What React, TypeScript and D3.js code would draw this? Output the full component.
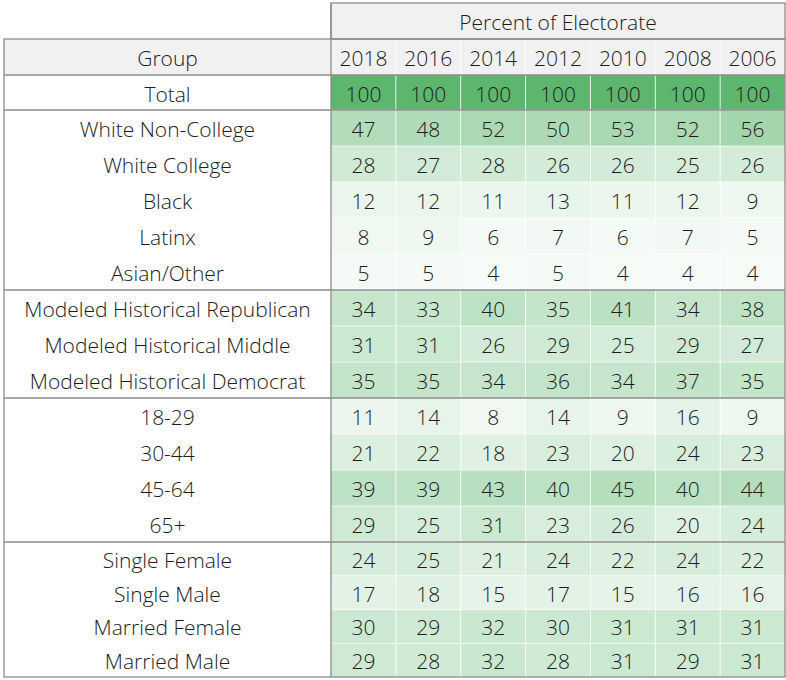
import React from "react";
import * as d3 from "d3";

const years = ["2018", "2016", "2014", "2012", "2010", "2008", "2006"];
const headerTitle = "Percent of Electorate";
const groupHeader = "Group";

const totalLabel = "Total";
const totalValues = [100, 100, 100, 100, 100, 100, 100];

const raceLabels = ["White Non-College", "White College", "Black", "Latinx", "Asian/Other"];
const raceValues = [
  [47, 48, 52, 50, 53, 52, 56],
  [28, 27, 28, 26, 26, 25, 26],
  [12, 12, 11, 13, 11, 12, 9],
  [8, 9, 6, 7, 6, 7, 5],
  [5, 5, 4, 5, 4, 4, 4],
];

const partyLabels = ["Modeled Historical Republican", "Modeled Historical Middle", "Modeled Historical Democrat"];
const partyValues = [
  [34, 33, 40, 35, 41, 34, 38],
  [31, 31, 26, 29, 25, 29, 27],
  [35, 35, 34, 36, 34, 37, 35],
];

const ageLabels = ["18-29", "30-44", "45-64", "65+"];
const ageValues = [
  [11, 14, 8, 14, 9, 16, 9],
  [21, 22, 18, 23, 20, 24, 23],
  [39, 39, 43, 40, 45, 40, 44],
  [29, 25, 31, 23, 26, 20, 24],
];

const maritalLabels = ["Single Female", "Single Male", "Married Female", "Married Male"];
const maritalValues = [
  [24, 25, 21, 24, 22, 24, 22],
  [17, 18, 15, 17, 15, 16, 16],
  [30, 29, 32, 30, 31, 31, 31],
  [29, 28, 32, 28, 31, 29, 31],
];

const W = 786;
const H = 680;
const FONT = "'Open Sans', 'Noto Sans', sans-serif";

export default function App() {
  const left = 4;
  const split = 331;
  const right = 785;
  const topY = 3;
  const headY = 39;
  const totalY = 75;
  const bodyY = 110;

  const x = d3.scaleBand<string>().domain(years).range([split, right]);

  const sections = [
    { labels: raceLabels, values: raceValues, rh: 36 },
    { labels: partyLabels, values: partyValues, rh: 36 },
    { labels: ageLabels, values: ageValues, rh: 36 },
    { labels: maritalLabels, values: maritalValues, rh: 33.75 },
  ];

  const allVals = [totalValues, ...raceValues, ...partyValues, ...ageValues, ...maritalValues].flat();
  const color = d3
    .scaleLinear<string>()
    .domain([d3.min(allVals)!, d3.max(allVals)!])
    .range(["#f7fbf8", "#5cb66d"])
    .interpolate(d3.interpolateRgb);

  type Row = { label: string; values: number[]; y0: number; y1: number };
  const rows: Row[] = [];
  const sepYs: number[] = [];
  let yc = bodyY;
  sections.forEach((s) => {
    s.labels.forEach((lab, i) => {
      rows.push({ label: lab, values: s.values[i], y0: yc, y1: yc + s.rh });
      yc += s.rh;
    });
    sepYs.push(yc);
  });
  const bottom = yc;

  const textColor = "#1c1c1c";
  const fs = 21;
  const midX = (left + split) / 2;

  const cellText = (v: number | string, cx: number, cy: number, key: string) => (
    <text key={key} x={cx} y={cy + 1} textAnchor="middle" dominantBaseline="central" fontSize={fs} fill={textColor} fontFamily={FONT} fontWeight={300}>
      {v}
    </text>
  );

  return (
    <svg width={W} height={H} style={{ position: "absolute", left: 0, top: 0, background: "#fff" }}>
      {/* header backgrounds */}
      <rect x={split} y={topY} width={right - split} height={headY - topY} fill="#f1f1f1" />
      <rect x={left} y={headY} width={right - left} height={totalY - headY} fill="#f1f1f1" />
      {/* total row */}
      {years.map((yr, j) => (
        <rect key={"t" + yr} x={x(yr)!} y={totalY} width={x.bandwidth()} height={bodyY - totalY} fill={color(totalValues[j])} />
      ))}
      {rows.map((r, i) =>
        years.map((yr, j) => (
          <rect key={`c${i}-${j}`} x={x(yr)!} y={r.y0} width={x.bandwidth()} height={r.y1 - r.y0} fill={color(r.values[j])} />
        ))
      )}
      {/* inner white grid lines */}
      {years.slice(1).map((yr) => (
        <line key={"v" + yr} x1={x(yr)!} x2={x(yr)!} y1={headY} y2={bottom} stroke="#ffffff" strokeWidth={1} opacity={0.8} />
      ))}
      {rows.map((r, i) => (
        <line key={"h" + i} x1={split} x2={right} y1={r.y0} y2={r.y0} stroke="#ffffff" strokeWidth={1} opacity={0.7} />
      ))}
      <line x1={split} x2={right} y1={headY} y2={headY} stroke="#d6d6d6" strokeWidth={1} />
      {/* gray structural lines */}
      <g stroke="#8c8c8c" strokeWidth={1.3} fill="none">
        <rect x={split} y={topY} width={right - split} height={headY - topY} />
        <rect x={left} y={headY} width={right - left} height={bottom - headY} />
        <line x1={left} x2={right} y1={totalY} y2={totalY} />
        <line x1={left} x2={right} y1={bodyY} y2={bodyY} />
        {sepYs.slice(0, -1).map((sy, i) => (
          <line key={"s" + i} x1={left} x2={right} y1={sy} y2={sy} />
        ))}
        <line x1={split} x2={split} y1={topY} y2={bottom} />
      </g>
      {/* header texts */}
      {cellText(headerTitle, (split + right) / 2, (topY + headY) / 2, "title")}
      {cellText(groupHeader, midX, (headY + totalY) / 2, "grp")}
      {years.map((yr) => cellText(yr, x(yr)! + x.bandwidth() / 2, (headY + totalY) / 2, "y" + yr))}
      {cellText(totalLabel, midX, (totalY + bodyY) / 2, "tot")}
      {years.map((yr, j) => cellText(totalValues[j], x(yr)! + x.bandwidth() / 2, (totalY + bodyY) / 2, "tv" + yr))}
      {rows.map((r, i) => (
        <g key={"r" + i}>
          {cellText(r.label, midX, (r.y0 + r.y1) / 2, "l" + i)}
          {years.map((yr, j) => cellText(r.values[j], x(yr)! + x.bandwidth() / 2, (r.y0 + r.y1) / 2, `v${i}-${j}`))}
        </g>
      ))}
    </svg>
  );
}
